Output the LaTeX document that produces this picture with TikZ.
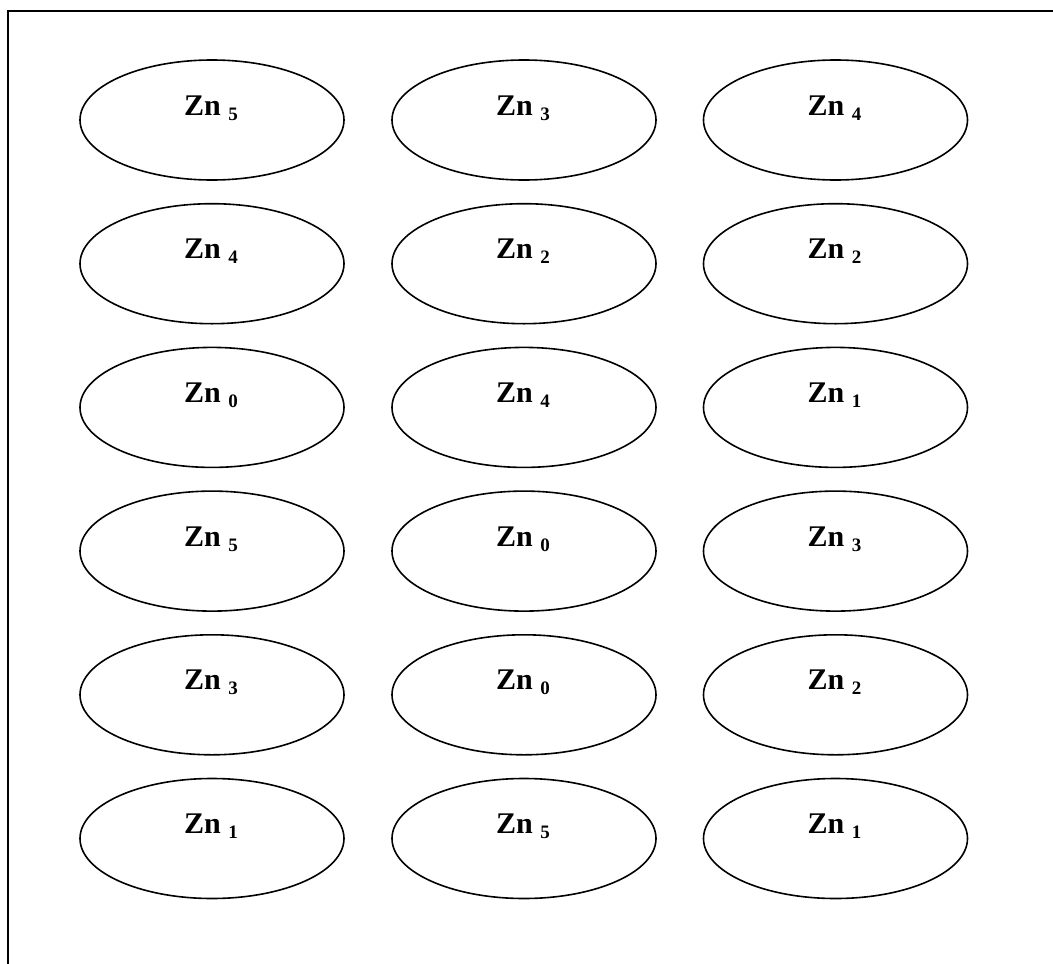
\documentclass[tikz,border=0pt]{standalone}
\usepackage{fontspec}
\setmainfont{Liberation Serif}
\usetikzlibrary{shapes.geometric}
\tikzset{
  cell/.style={draw=black, line width=1.6pt, ellipse, minimum width=264pt, minimum height=120pt, inner sep=0pt},
  lbl/.style={anchor=base, inner sep=0pt, font=\fontsize{30}{36}\selectfont\bfseries},
  frame/.style={draw=black, line width=1.8pt}
}
\newcommand{\znlab}[1]{Zn~\raisebox{-5pt}{\fontsize{19}{22}\selectfont #1}}
\begin{document}
\begin{tikzpicture}[x=1pt, y=-1pt]
\useasboundingbox (0,0) rectangle (1053,964);
\coordinate (fa) at (8,970);
\coordinate (fb) at (8,11);
\coordinate (fc) at (1060,11);
\draw[frame] (fa) -- (fb) -- (fc);
\foreach \r/\a/\b/\c in {0/5/3/4, 1/4/2/2, 2/0/4/1, 3/5/0/3, 4/3/0/2, 5/1/5/1} {
  \pgfmathsetmacro{\yy}{120+143.7*\r}
  \node[cell] (e\r a) at (212,\yy) {};
  \node[cell] (e\r b) at (524,\yy) {};
  \node[cell] (e\r c) at (835.5,\yy) {};
  \node[lbl] (t\r a) at ([yshift=5pt,xshift=-1pt]e\r a.center) {\znlab{\a}};
  \node[lbl] (t\r b) at ([yshift=5pt,xshift=-1pt]e\r b.center) {\znlab{\b}};
  \node[lbl] (t\r c) at ([yshift=5pt,xshift=-1pt]e\r c.center) {\znlab{\c}};
}
\end{tikzpicture}
\end{document}
